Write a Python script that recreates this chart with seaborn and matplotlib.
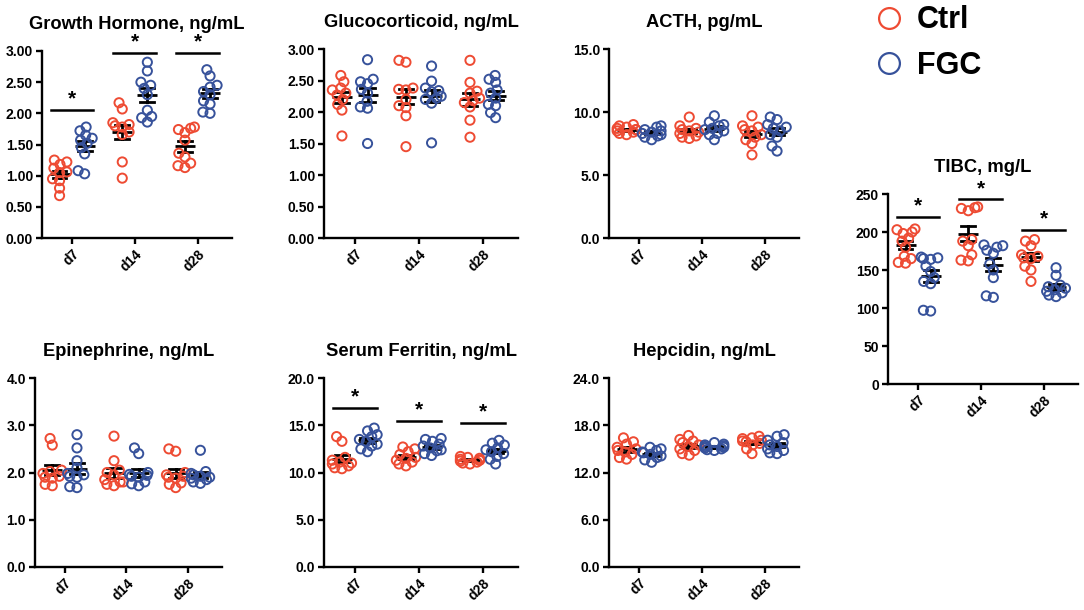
import warnings
import numpy as np
import pandas as pd
import seaborn as sns
import matplotlib.pyplot as plt
from matplotlib.lines import Line2D

warnings.filterwarnings("ignore")

days = ["d7", "d14", "d28"]
groups = ["Ctrl", "FGC"]
red = "#EE4B33"
blue = "#37529B"

# values per group: [d7, d14, d28]
gh_ctrl = [[1.25, 1.22, 1.18, 1.12, 1.06, 1.05, 0.95, 0.92, 0.80, 0.68],
           [2.17, 2.07, 1.85, 1.82, 1.80, 1.78, 1.70, 1.66, 1.22, 0.96],
           [1.78, 1.76, 1.74, 1.69, 1.57, 1.36, 1.30, 1.20, 1.16, 1.13]]
gh_fgc = [[1.78, 1.72, 1.65, 1.60, 1.57, 1.52, 1.45, 1.35, 1.08, 1.03],
          [2.82, 2.68, 2.50, 2.45, 2.40, 2.30, 2.05, 1.95, 1.93, 1.86],
          [2.70, 2.60, 2.45, 2.42, 2.35, 2.30, 2.20, 2.15, 2.02, 2.00]]
gc_ctrl = [[2.58, 2.48, 2.38, 2.35, 2.30, 2.27, 2.20, 2.12, 2.03, 1.62],
           [2.82, 2.79, 2.38, 2.36, 2.35, 2.20, 2.10, 2.07, 1.94, 1.45],
           [2.82, 2.47, 2.33, 2.30, 2.22, 2.18, 2.15, 2.08, 1.87, 1.60]]
gc_fgc = [[2.83, 2.52, 2.48, 2.45, 2.36, 2.30, 2.17, 2.08, 2.06, 1.50],
          [2.73, 2.49, 2.38, 2.34, 2.32, 2.25, 2.22, 2.20, 2.14, 1.51],
          [2.58, 2.52, 2.47, 2.35, 2.30, 2.22, 2.12, 2.10, 1.99, 1.91]]
acth_ctrl = [[9.0, 8.9, 8.8, 8.7, 8.6, 8.6, 8.5, 8.4, 8.3, 8.2],
             [9.6, 8.9, 8.7, 8.6, 8.5, 8.4, 8.3, 8.1, 8.0, 7.9],
             [9.7, 8.9, 8.8, 8.6, 8.5, 8.2, 8.0, 7.8, 7.5, 6.6]]
acth_fgc = [[8.9, 8.8, 8.6, 8.5, 8.4, 8.3, 8.2, 8.1, 8.0, 7.8],
            [9.7, 9.2, 9.0, 8.9, 8.7, 8.6, 8.5, 8.3, 8.2, 7.8],
            [9.6, 9.4, 9.0, 8.8, 8.7, 8.5, 8.2, 8.0, 7.3, 6.9]]
tibc_ctrl = [[204, 203, 200, 198, 192, 188, 180, 168, 165, 160, 159],
             [233, 232, 231, 228, 190, 188, 182, 170, 163, 162],
             [190, 188, 182, 170, 168, 166, 165, 155, 150, 135]]
tibc_fgc = [[167, 166, 165, 164, 155, 148, 140, 135, 132, 97, 96],
            [183, 182, 180, 176, 172, 158, 150, 140, 116, 114],
            [153, 143, 130, 128, 126, 124, 122, 120, 117, 115]]
epi_ctrl = [[2.72, 2.58, 2.05, 2.02, 1.98, 1.92, 1.90, 1.88, 1.75, 1.72],
            [2.77, 2.25, 2.05, 2.00, 1.95, 1.85, 1.80, 1.80, 1.75, 1.72],
            [2.50, 2.45, 2.00, 1.95, 1.92, 1.90, 1.88, 1.78, 1.75, 1.68]]
epi_fgc = [[2.80, 2.52, 2.25, 2.10, 1.98, 1.95, 1.92, 1.90, 1.70, 1.68],
           [2.52, 2.40, 2.00, 1.96, 1.94, 1.92, 1.90, 1.80, 1.76, 1.72],
           [2.47, 2.02, 1.98, 1.95, 1.92, 1.90, 1.88, 1.85, 1.80, 1.77]]
fer_ctrl = [[13.8, 13.3, 11.6, 11.3, 11.1, 11.0, 10.9, 10.7, 10.5, 10.4],
            [12.7, 12.5, 12.2, 11.9, 11.6, 11.5, 11.3, 11.1, 10.9, 10.7],
            [11.7, 11.6, 11.5, 11.4, 11.3, 11.3, 11.2, 11.1, 11.0, 10.9]]
fer_fgc = [[14.7, 14.4, 14.0, 13.8, 13.5, 13.3, 13.0, 12.8, 12.5, 12.2],
           [13.6, 13.5, 13.3, 13.0, 12.8, 12.6, 12.4, 12.3, 12.0, 11.8],
           [13.4, 13.1, 12.9, 12.6, 12.4, 12.2, 12.0, 11.7, 11.4, 10.9]]
hep_ctrl = [[16.4, 15.9, 15.6, 15.2, 15.0, 14.8, 14.6, 14.3, 13.9, 13.7],
            [16.7, 16.2, 16.0, 15.8, 15.5, 15.3, 15.0, 14.8, 14.4, 14.2],
            [16.6, 16.4, 16.3, 16.1, 16.0, 15.9, 15.7, 15.5, 15.0, 14.4]]
hep_fgc = [[15.2, 15.0, 14.8, 14.6, 14.5, 14.3, 14.1, 13.9, 13.6, 13.3],
           [15.8, 15.6, 15.5, 15.4, 15.3, 15.2, 15.1, 15.0, 14.9, 14.8],
           [16.8, 16.6, 16.1, 15.8, 15.5, 15.3, 15.0, 14.8, 14.5, 14.4]]

# significance bar heights (None = no bar)
gh_sig = [2.05, 2.97, 2.97]
tibc_sig = [220, 243, 203]
fer_sig = [16.8, 15.45, 15.25]
no_sig = [None, None, None]

plt.rcParams["font.family"] = ["Liberation Sans", "DejaVu Sans"]
plt.rcParams["font.weight"] = "bold"

fig = plt.figure(figsize=(10.84, 6.1), dpi=100)
swarms = []
# dodged centres of the hue groups on the categorical axis
slots = np.array([i + d for i in range(len(days)) for d in (-0.2, 0.2)])


def px_axes(l, r, t, b):
    return fig.add_axes([l / 1084, 1 - b / 610, (r - l) / 1084, (b - t) / 610])


def to_df(ctrl, fgc):
    rows = []
    for g, vals in zip(groups, [ctrl, fgc]):
        for d, v in zip(days, vals):
            for x in v:
                rows.append((d, g, x))
    return pd.DataFrame(rows, columns=["day", "group", "value"])


def panel(ax, title, ctrl, fgc, ticks, fmt, sig):
    df = to_df(ctrl, fgc)
    ax.set_xlim(-0.48, 2.55)
    ax.set_ylim(ticks[0], ticks[-1])
    # small markers for the swarm layout, enlarged after layout so they overlap
    sns.swarmplot(data=df, x="day", y="value", hue="group", order=days,
                  hue_order=groups, palette=[red, blue], dodge=True,
                  size=3.6, linewidth=1.4, legend=False, ax=ax)
    for c in ax.collections:
        c.set_edgecolor(c.get_facecolor())
        c.set_facecolor("none")
        c.set_clip_on(False)
        swarms.append(c)
    sns.pointplot(data=df, x="day", y="value", hue="group", order=days,
                  hue_order=groups, palette=["black", "black"], dodge=0.4,
                  errorbar="se", capsize=0.22, markers="_", linestyles="none",
                  markersize=15, markeredgewidth=2.0,
                  err_kws={"linewidth": 2.0}, legend=False, ax=ax)
    for i, h in enumerate(sig):
        if h is None:
            continue
        ax.plot([i - 0.34, i + 0.34], [h, h], color="black", lw=1.8,
                clip_on=False)
        ax.annotate("*", (i, h), xytext=(0, 1), textcoords="offset points",
                    ha="center", va="bottom", fontsize=15,
                    fontweight="bold", annotation_clip=False)
    ax.set_xlim(-0.48, 2.55)
    ax.set_ylim(ticks[0], ticks[-1])
    ax.set_yticks(ticks)
    ax.set_yticklabels([fmt.format(t) for t in ticks])
    ax.set_xlabel("")
    ax.set_ylabel("")
    ax.set_title(title, fontsize=13.2, fontweight="bold", pad=16)
    ax.spines[["top", "right"]].set_visible(False)
    ax.spines[["left", "bottom"]].set_linewidth(1.7)
    ax.tick_params(width=1.7, length=4.5, labelsize=10, pad=2)
    ax.tick_params(axis="x", labelrotation=45)
    for lab in ax.get_xticklabels():
        lab.set_ha("right")
        lab.set_rotation_mode("anchor")


panel(px_axes(42, 232, 51, 238), "Growth Hormone, ng/mL", gh_ctrl, gh_fgc,
      [0, 0.5, 1.0, 1.5, 2.0, 2.5, 3.0], "{:.2f}", gh_sig)
panel(px_axes(324, 518, 49, 238), "Glucocorticoid, ng/mL", gc_ctrl, gc_fgc,
      [0, 0.5, 1.0, 1.5, 2.0, 2.5, 3.0], "{:.2f}", no_sig)
panel(px_axes(609, 799, 49, 238), "ACTH, pg/mL", acth_ctrl, acth_fgc,
      [0, 5, 10, 15], "{:.1f}", no_sig)
panel(px_axes(888, 1078, 194, 384), "TIBC, mg/L", tibc_ctrl, tibc_fgc,
      [0, 50, 100, 150, 200, 250], "{:.0f}", tibc_sig)
panel(px_axes(35, 222, 378, 567), "Epinephrine, ng/mL", epi_ctrl, epi_fgc,
      [0, 1, 2, 3, 4], "{:.1f}", no_sig)
panel(px_axes(324, 518, 378, 567), "Serum Ferritin, ng/mL", fer_ctrl, fer_fgc,
      [0, 5, 10, 15, 20], "{:.1f}", fer_sig)
panel(px_axes(609, 799, 378, 567), "Hepcidin, ng/mL", hep_ctrl, hep_fgc,
      [0, 6, 12, 18, 24], "{:.1f}", no_sig)

handles = [Line2D([], [], linestyle="none", marker="o", markersize=15,
                  markerfacecolor="none", markeredgecolor=c,
                  markeredgewidth=1.6) for c in [red, blue]]
fig.legend(handles, groups, loc="upper left",
           bbox_to_anchor=(861 / 1084, 1 + 7 / 610),
           frameon=False, prop={"size": 22, "weight": "bold"},
           handlelength=1.0, handletextpad=0.42, labelspacing=0.5,
           borderaxespad=0)

# run the swarm layout once, then freeze positions, narrow the gutters
# a little and enlarge the markers so they overlap like the original
fig.canvas.draw()
for c in swarms:
    c.__dict__.pop("draw", None)
    xy = np.asarray(c.get_offsets(), dtype=float)
    if len(xy):
        center = slots[np.argmin(np.abs(slots - np.median(xy[:, 0])))]
        xy[:, 0] = center + np.clip(xy[:, 0] - center, -0.15, 0.15)
        c.set_offsets(xy)
    c.set_sizes([6.6 ** 2])

fig.savefig("out.png", dpi=100)
